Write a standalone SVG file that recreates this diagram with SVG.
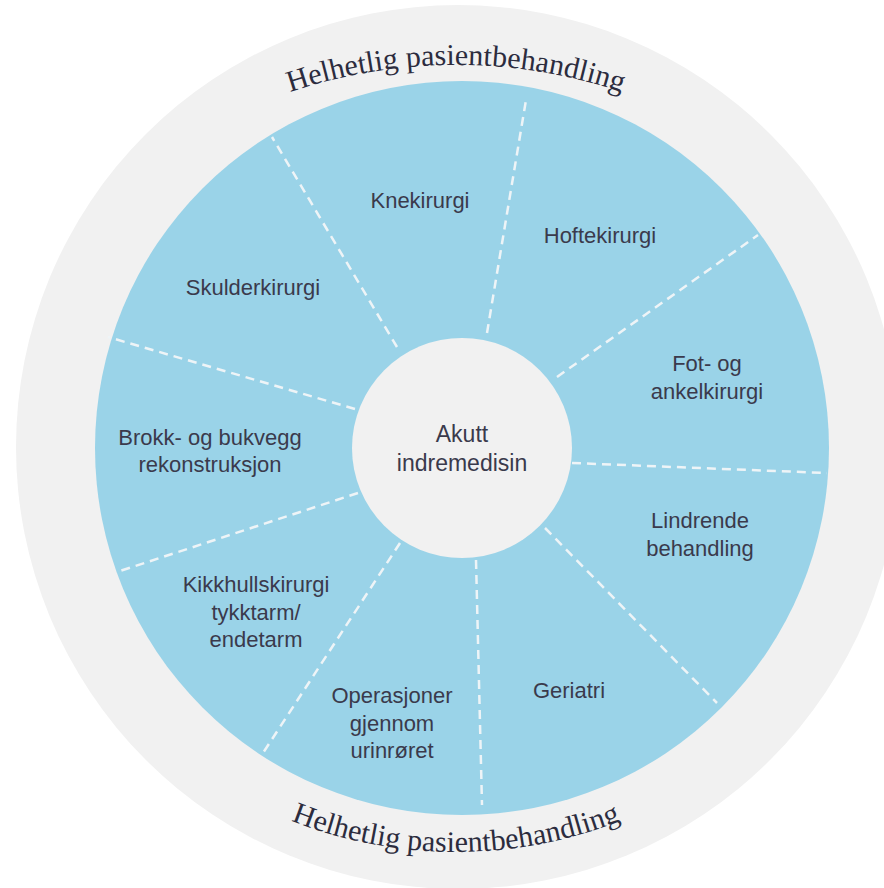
<svg xmlns="http://www.w3.org/2000/svg" xmlns:xlink="http://www.w3.org/1999/xlink" width="884" height="888" viewBox="0 0 884 888">
  <defs>
    <style>
      .ring-outer { fill: #f1f1f1; }
      .ring-blue { fill: #9ad3e8; }
      .hub { fill: #f1f1f1; }
      .lbl { font-family: "Liberation Sans", Arial, sans-serif; font-size: 22px; fill: #3a3a4c; text-anchor: middle; }
      .hub-lbl { font-family: "Liberation Sans", Arial, sans-serif; font-size: 23px; fill: #3a3a4c; text-anchor: middle; }
      .arc-lbl { font-family: "Liberation Serif", "Times New Roman", serif; font-size: 30px; fill: #2c2c3e; }
      .divider { stroke: #eef4f7; stroke-width: 2.5; stroke-dasharray: 9 6; fill: none; }
    </style>
    <path id="arcTop" d="M 157.7 159 A 520 520 0 0 1 754.3 159"/>
    <path id="arcBottom" d="M 197.9 770.6 A 450 450 0 0 0 714.1 770.6"/>
  </defs>

  <g id="outer-ring">
    <circle class="ring-outer" cx="458" cy="447" r="442"/>
    <text class="arc-lbl"><textPath xlink:href="#arcTop" href="#arcTop" startOffset="50%" text-anchor="middle">Helhetlig pasientbehandling</textPath></text>
    <text class="arc-lbl"><textPath xlink:href="#arcBottom" href="#arcBottom" startOffset="50%" text-anchor="middle">Helhetlig pasientbehandling</textPath></text>
  </g>

  <g id="wheel">
    <circle class="ring-blue" cx="462" cy="448" r="367"/>
  </g>

  <g id="connectors">
    <line class="divider" x1="487" y1="333" x2="526" y2="100"/>
    <line class="divider" x1="557" y1="377" x2="758" y2="235"/>
    <line class="divider" x1="572" y1="463" x2="827" y2="473"/>
    <line class="divider" x1="545" y1="528" x2="717" y2="703"/>
    <line class="divider" x1="476" y1="560" x2="482" y2="805"/>
    <line class="divider" x1="400" y1="543" x2="263" y2="753"/>
    <line class="divider" x1="358" y1="493" x2="117" y2="572"/>
    <line class="divider" x1="355" y1="409" x2="108" y2="337"/>
    <line class="divider" x1="397" y1="347" x2="272" y2="137"/>
  </g>

  <g id="hub">
    <circle class="hub" cx="462" cy="448" r="110"/>
    <text class="hub-lbl" x="462" y="442">Akutt</text>
    <text class="hub-lbl" x="462" y="471">indremedisin</text>
  </g>

  <g id="knekirurgi">
    <text class="lbl" x="420" y="208">Knekirurgi</text>
  </g>
  <g id="hoftekirurgi">
    <text class="lbl" x="600" y="243">Hoftekirurgi</text>
  </g>
  <g id="fot-ankel">
    <text class="lbl" x="707" y="371">Fot- og</text>
    <text class="lbl" x="707" y="399">ankelkirurgi</text>
  </g>
  <g id="lindrende">
    <text class="lbl" x="700" y="528">Lindrende</text>
    <text class="lbl" x="700" y="556">behandling</text>
  </g>
  <g id="geriatri">
    <text class="lbl" x="569" y="698">Geriatri</text>
  </g>
  <g id="operasjoner">
    <text class="lbl" x="392" y="703">Operasjoner</text>
    <text class="lbl" x="392" y="731">gjennom</text>
    <text class="lbl" x="392" y="758">urinrøret</text>
  </g>
  <g id="kikkhull">
    <text class="lbl" x="256" y="592">Kikkhullskirurgi</text>
    <text class="lbl" x="256" y="620">tykktarm/</text>
    <text class="lbl" x="256" y="647">endetarm</text>
  </g>
  <g id="brokk">
    <text class="lbl" x="210" y="445">Brokk- og bukvegg</text>
    <text class="lbl" x="210" y="472">rekonstruksjon</text>
  </g>
  <g id="skulderkirurgi">
    <text class="lbl" x="253" y="295">Skulderkirurgi</text>
  </g>
</svg>
